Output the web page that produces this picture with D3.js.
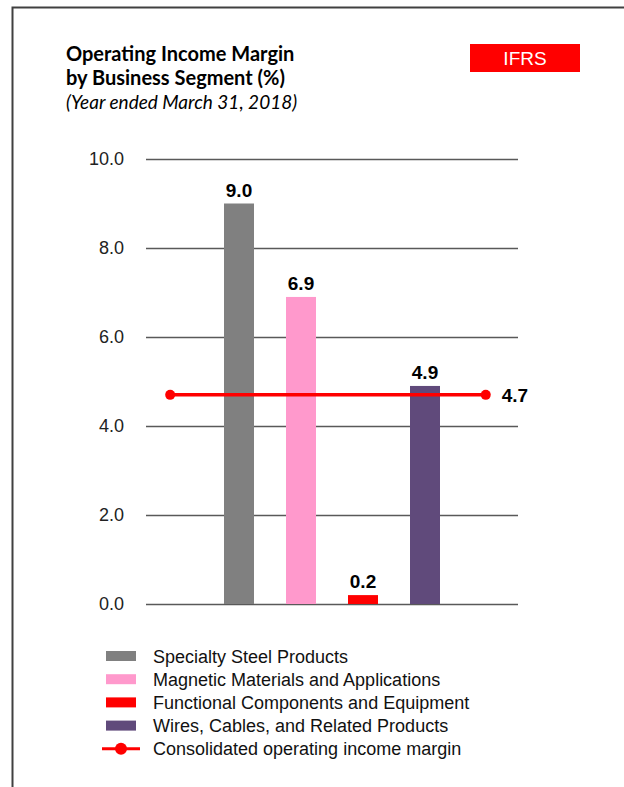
<!DOCTYPE html>
<html>
<head>
<meta charset="utf-8">
<script src="https://cdn.jsdelivr.net/npm/d3@7"></script>
<style>
  body { margin: 0; background: #fff; }
  svg { display: block; }
</style>
</head>
<body>
<script>
// dati del grafico
const segmenti = ["Specialty Steel Products", "Magnetic Materials and Applications",
                  "Functional Components and Equipment", "Wires, Cables, and Related Products"];
const margini = [9.0, 6.9, 0.2, 4.9];
const colori = ["#808080", "#ff99cc", "#ff0000", "#604a7b"];
const consolidato = 4.7;
const nomeConsolidato = "Consolidated operating income margin";
const tickY = [0, 2, 4, 6, 8, 10];

const larghezza = 624, altezza = 787;

let svg = d3.select("body").append("svg")
    .attr("width", larghezza)
    .attr("height", altezza);

// cornice (solo sinistra e sopra)
svg.append("path")
    .attr("d", "M12.5,787 L12.5,7.5 L624,7.5")
    .attr("fill", "none")
    .attr("stroke", "#404040")
    .attr("stroke-width", 2);

// titolo
const titolo = svg.append("g").attr("font-family", "Lato, 'Open Sans', sans-serif").attr("fill", "#000");
titolo.append("text").attr("x", 66).attr("y", 61).attr("font-size", 20).attr("font-weight", "bold")
    .text("Operating Income Margin");
titolo.append("text").attr("x", 66).attr("y", 85).attr("font-size", 20).attr("font-weight", "bold")
    .text("by Business Segment (%)");
titolo.append("text").attr("x", 66).attr("y", 109).attr("font-size", 19).attr("font-style", "italic")
    .text("(Year ended March 31, 2018)");

// etichetta IFRS
svg.append("rect").attr("x", 470).attr("y", 44).attr("width", 110).attr("height", 28).attr("fill", "#ff0000");
svg.append("text").attr("x", 525).attr("y", 65).attr("text-anchor", "middle")
    .attr("font-family", "'Liberation Sans', Arial, sans-serif").attr("font-size", 19).attr("fill", "#fff")
    .text("IFRS");

// scale
const scalaX = d3.scaleLinear().domain([0, 6]).range([146, 518]);
const scalaY = d3.scaleLinear().domain([0, 10]).range([604, 159]);
const larghezzaBarra = 30;

// griglia e asse y
let asseY = d3.axisLeft(scalaY).tickValues(tickY).tickFormat(d3.format(".1f"))
    .tickSize(-(scalaX(6) - scalaX(0))).tickPadding(22);
let gAsse = svg.append("g")
    .attr("transform", `translate(${scalaX(0)},0)`)
    .call(asseY);
gAsse.select(".domain").remove();
gAsse.selectAll(".tick line").attr("stroke", "#595959").attr("stroke-width", 1.5);
gAsse.selectAll(".tick text")
    .attr("font-family", "'Liberation Sans', Arial, sans-serif")
    .attr("font-size", 18).attr("fill", "#222");

// barre
svg.selectAll(".barra").data(margini).enter().append("rect")
    .attr("class", "barra")
    .attr("x", (d, i) => scalaX(i + 1.5) - larghezzaBarra / 2)
    .attr("y", d => scalaY(d))
    .attr("width", larghezzaBarra)
    .attr("height", d => scalaY(0) - scalaY(d))
    .attr("fill", (d, i) => colori[i]);

svg.selectAll(".valore").data(margini).enter().append("text")
    .attr("class", "valore")
    .attr("x", (d, i) => scalaX(i + 1.5))
    .attr("y", d => scalaY(d) - 7)
    .attr("text-anchor", "middle")
    .attr("font-family", "'Liberation Sans', Arial, sans-serif")
    .attr("font-size", 19).attr("font-weight", "bold")
    .text(d => d.toFixed(1));

// linea consolidato
const estremi = [0.39, 5.48];
svg.append("line")
    .attr("x1", scalaX(estremi[0])).attr("x2", scalaX(estremi[1]))
    .attr("y1", scalaY(consolidato)).attr("y2", scalaY(consolidato))
    .attr("stroke", "#ff0000").attr("stroke-width", 3.5);
svg.selectAll(".punto").data(estremi).enter().append("circle")
    .attr("cx", d => scalaX(d)).attr("cy", scalaY(consolidato)).attr("r", 5)
    .attr("fill", "#ff0000");
svg.append("text")
    .attr("x", scalaX(estremi[1]) + 16).attr("y", scalaY(consolidato) + 7)
    .attr("font-family", "'Liberation Sans', Arial, sans-serif")
    .attr("font-size", 19).attr("font-weight", "bold")
    .text(consolidato.toFixed(1));

// legenda
const legenda = svg.append("g").attr("font-family", "'Liberation Sans', Arial, sans-serif");
const passo = 23.2, y0 = 656;
segmenti.forEach(function (s, i) {
    legenda.append("rect").attr("x", 106).attr("y", y0 + i * passo - 5)
        .attr("width", 30).attr("height", 10).attr("fill", colori[i]);
    legenda.append("text").attr("x", 153).attr("y", y0 + i * passo + 6.5)
        .attr("font-size", 18).attr("fill", "#111").text(s);
});
const yc = y0 + 4 * passo;
legenda.append("line").attr("x1", 102).attr("x2", 140).attr("y1", yc).attr("y2", yc)
    .attr("stroke", "#ff0000").attr("stroke-width", 3);
legenda.append("circle").attr("cx", 121).attr("cy", yc).attr("r", 6).attr("fill", "#ff0000");
legenda.append("text").attr("x", 153).attr("y", yc + 6.5)
    .attr("font-size", 18).attr("fill", "#111").text(nomeConsolidato);
</script>
</body>
</html>
